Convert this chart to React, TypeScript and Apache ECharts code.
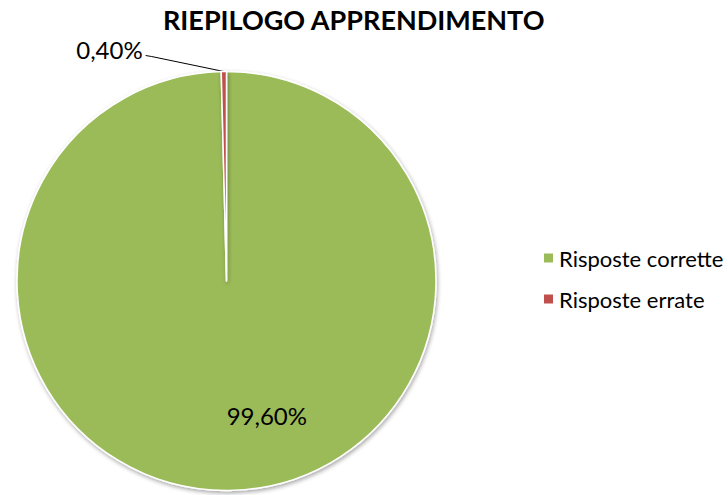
import React, { useEffect, useRef } from "react";
import * as echarts from "echarts";

const titleText = "RIEPILOGO APPRENDIMENTO";
const categories = ["Risposte corrette", "Risposte errate"];
const values = [99.6, 0.4];
const colors = ["#9BBB59", "#C0504D"];

const fmt = (v: number) => v.toFixed(2).replace(".", ",") + "%";

export default function App() {
  const ref = useRef<HTMLDivElement>(null);
  useEffect(() => {
    if (!ref.current) return;
    const chart = echarts.init(ref.current, null, { renderer: "svg" });
    const font = "Lato, 'Open Sans', sans-serif";
    chart.setOption({
      animation: false,
      backgroundColor: "#ffffff",
      title: {
        text: titleText,
        left: 163,
        top: 6,
        padding: 0,
        textStyle: { fontFamily: font, fontWeight: "bold", fontSize: 27, color: "#000" },
      },
      legend: {
        orient: "vertical",
        left: 542,
        top: 247,
        padding: 0,
        itemWidth: 11,
        itemHeight: 11,
        itemGap: 19,
        icon: "rect",
        data: categories,
        textStyle: { fontFamily: font, fontSize: 22, color: "#000" },
      },
      series: [
        {
          type: "pie",
          center: [226.5, 281],
          radius: [0, 209.5],
          startAngle: 90,
          clockwise: true,
          avoidLabelOverlap: false,
          itemStyle: {
            borderColor: "#fff",
            borderWidth: 1.5,
            shadowBlur: 4,
            shadowOffsetX: 1,
            shadowOffsetY: 2,
            shadowColor: "rgba(0,0,0,0.35)",
          },
          label: {
            fontFamily: font,
            fontSize: 24,
            color: "#000",
            formatter: (p: any) => fmt(p.value),
          },
          labelLine: { lineStyle: { color: "#000", width: 1 } },
          labelLayout: (p: any) => {
            if (p.dataIndex === 0) return { dx: 39, dy: 27 };
            const pts = p.labelLinePoints;
            if (!pts) return {};
            const a = pts[0];
            const c = pts[2];
            return { dy: -6, labelLinePoints: [a, [c[0] + 6, c[1] + 1], c] };
          },
          data: categories.map((name, i) => ({
            name,
            value: values[i],
            itemStyle: { color: colors[i] },
            label:
              i === 0
                ? { show: true, position: "inside" }
                : { show: true, position: "outside", distanceToLabelLine: 3 },
            labelLine: i === 0 ? { show: false } : { show: true, length: 16, length2: 78 },
          })),
        },
      ],
    });
    return () => chart.dispose();
  }, []);
  return (
    <div
      ref={ref}
      style={{ position: "fixed", left: 0, top: 0, width: 728, height: 495 }}
    />
  );
}
